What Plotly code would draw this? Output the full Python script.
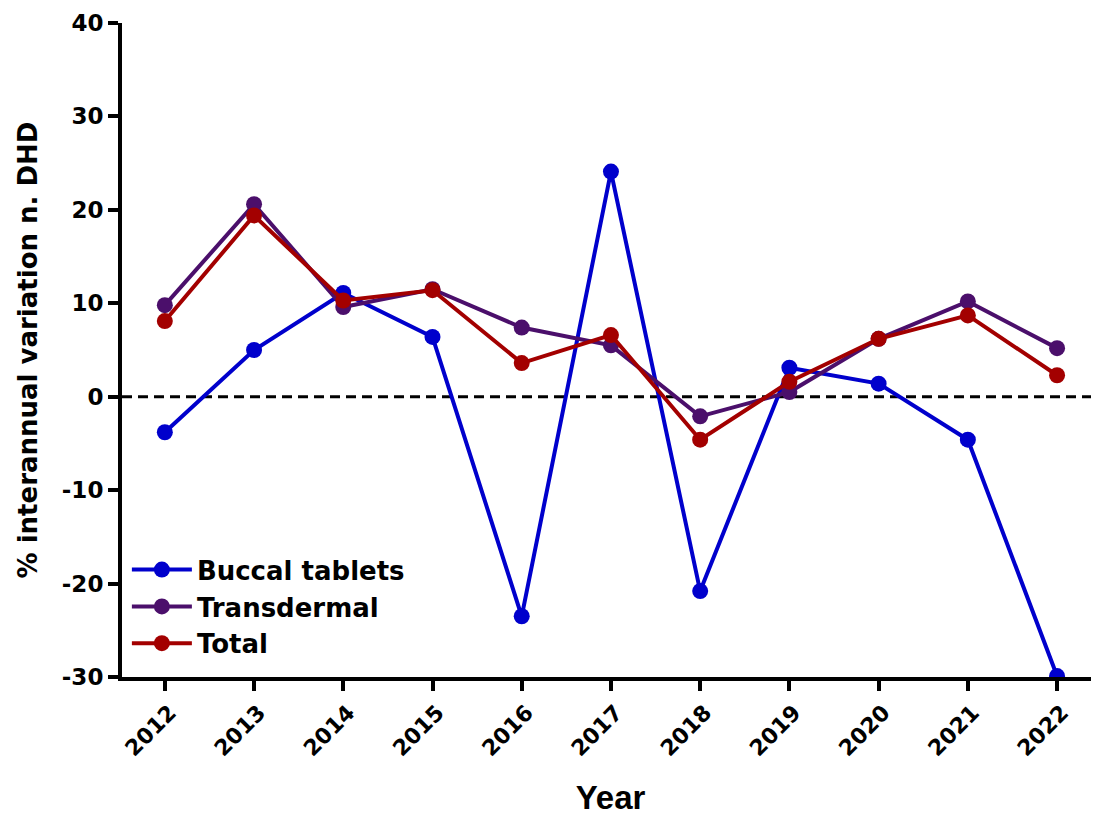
import plotly.graph_objects as go

years = [2012, 2013, 2014, 2015, 2016, 2017, 2018, 2019, 2020, 2021, 2022]
buccal = [-3.8, 5.0, 11.1, 6.4, -23.5, 24.1, -20.8, 3.1, 1.4, -4.6, -29.9]
transdermal = [9.8, 20.6, 9.6, 11.5, 7.4, 5.5, -2.1, 0.5, 6.2, 10.2, 5.2]
total = [8.1, 19.4, 10.3, 11.4, 3.6, 6.6, -4.6, 1.6, 6.2, 8.7, 2.3]
y_ticks = [-30, -20, -10, 0, 10, 20, 30, 40]
y_tick_text = ["-30", "-20", "-10", "0", "10", "20", "30", "40"]

series = [
    ("Buccal tablets", buccal, "#0000CC"),
    ("Transdermal", transdermal, "#4B0F6B"),
    ("Total", total, "#A30000"),
]

fig = go.Figure()
for name, vals, col in series:
    fig.add_trace(go.Scatter(
        x=years, y=vals, name=name, mode="lines+markers",
        line=dict(color=col, width=4),
        marker=dict(color=col, size=16, symbol="circle"),
    ))

fig.add_shape(type="line", xref="paper", yref="y", x0=0, x1=1, y0=0, y1=0,
              line=dict(color="black", width=3, dash="10px,6px"), layer="below")

lib = "Liberation Sans, Arial, sans-serif"
dv = "DejaVu Sans, Liberation Sans, sans-serif"
fig.update_layout(
    width=1091, height=809,
    margin=dict(l=114, r=0, t=15, b=140),
    paper_bgcolor="white", plot_bgcolor="white",
    font=dict(family=dv, color="black"),
    showlegend=True,
    legend=dict(x=0.005, y=0.2, xanchor="left", yanchor="top",
                font=dict(size=26, family=dv, color="black", weight="bold"),
                bgcolor="rgba(0,0,0,0)", tracegroupgap=0, itemwidth=60),
    xaxis=dict(
        range=[2011.52, 2022.47], tickmode="array", tickvals=years,
        ticktext=[str(y) for y in years], tickangle=-45,
        showline=True, linecolor="black", linewidth=4,
        ticks="outside", ticklen=10, tickwidth=3.5, tickcolor="black",
        showgrid=False, zeroline=False, ticklabelshift=5,
        tickfont=dict(size=22, family=dv, color="black", weight="bold"),
        title=dict(text="Year", standoff=27,
                   font=dict(size=33, family=lib, color="black", weight="bold")),
    ),
    yaxis=dict(
        range=[-30, 40], tickmode="array", tickvals=y_ticks, ticktext=y_tick_text,
        showline=True, linecolor="black", linewidth=4,
        ticks="outside", ticklen=10, tickwidth=3.5, tickcolor="black",
        showgrid=False, zeroline=False,
        tickfont=dict(size=23, family=dv, color="black", weight="bold"),
        title=dict(text="% interannual variation n. DHD", standoff=18,
                   font=dict(size=26, family=dv, color="black", weight="bold")),
    ),
)

fig.write_html("out.html")
